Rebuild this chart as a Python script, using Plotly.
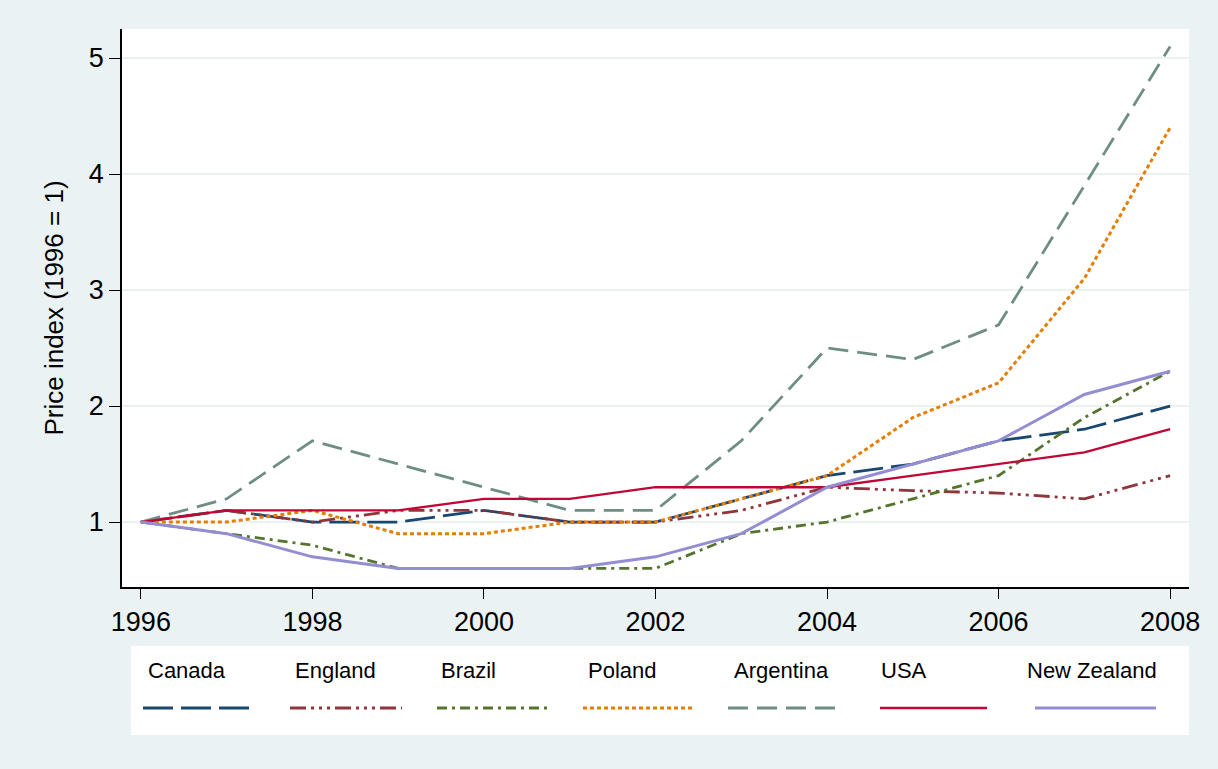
import plotly.graph_objects as go

years = list(range(1996, 2009))
canada = [1.0, 1.1, 1.0, 1.0, 1.1, 1.0, 1.0, 1.2, 1.4, 1.5, 1.7, 1.8, 2.0]
england = [1.0, 1.1, 1.0, 1.1, 1.1, 1.0, 1.0, 1.1, 1.3, 1.27, 1.25, 1.2, 1.4]
brazil = [1.0, 0.9, 0.8, 0.6, 0.6, 0.6, 0.6, 0.9, 1.0, 1.2, 1.4, 1.9, 2.3]
poland = [1.0, 1.0, 1.1, 0.9, 0.9, 1.0, 1.0, 1.2, 1.4, 1.9, 2.2, 3.1, 4.4]
argentina = [1.0, 1.2, 1.7, 1.5, 1.3, 1.1, 1.1, 1.7, 2.5, 2.4, 2.7, 3.9, 5.1]
usa = [1.0, 1.1, 1.1, 1.1, 1.2, 1.2, 1.3, 1.3, 1.3, 1.4, 1.5, 1.6, 1.8]
new_zealand = [1.0, 0.9, 0.7, 0.6, 0.6, 0.6, 0.7, 0.9, 1.3, 1.5, 1.7, 2.1, 2.3]

x_ticks = [1996, 1998, 2000, 2002, 2004, 2006, 2008]
y_ticks = [1, 2, 3, 4, 5]

series = [
    ("Canada", canada, "#1A476F", "30px,8px", 2.8),
    ("England", england, "#90353B", "16px,5px,3px,5px,3px,5px,3px,5px", 2.8),
    ("Brazil", brazil, "#55752F", "10px,5px,3px,5px", 2.8),
    ("Poland", poland, "#E37E00", "4px,3px", 3.0),
    ("Argentina", argentina, "#6E8E84", "20px,9px", 2.8),
    ("USA", usa, "#C10534", "solid", 2.3),
    ("New Zealand", new_zealand, "#938DD2", "solid", 3.0),
]

W, H = 1218, 769
L, R, T, B = 122, 29, 29, 182
ph = H - T - B
pw = W - L - R

def py(pix):  # pixel y -> paper y
    return (H - B - pix) / ph

def px(pix):  # pixel x -> paper x
    return (pix - L) / pw

fig = go.Figure()
for name, vals, color, dash, w in series:
    fig.add_trace(go.Scatter(x=years, y=vals, mode="lines", name=name,
                             line=dict(color=color, dash=dash, width=w),
                             showlegend=False))

shapes = []
annotations = []
# legend box
shapes.append(dict(type="rect", xref="paper", yref="paper",
                   x0=px(131), x1=px(1189), y0=py(735), y1=py(646),
                   fillcolor="white", line=dict(width=0), layer="below"))
label_x = [146, 293, 439, 586, 732, 879, 1025]
sample_x = [(143, 256), (290, 402), (437, 548), (583, 695), (728, 843), (880, 987), (1035, 1156)]
for (name, vals, color, dash, w), lx, (sx0, sx1) in zip(series, label_x, sample_x):
    annotations.append(dict(xref="paper", yref="paper", x=px(lx), y=py(670),
                            text=name, showarrow=False, xanchor="left", yanchor="middle",
                            font=dict(size=22, color="black")))
    shapes.append(dict(type="line", xref="paper", yref="paper",
                       x0=px(sx0), x1=px(sx1), y0=py(708), y1=py(708),
                       line=dict(color=color, dash=dash, width=w)))

fig.update_layout(
    width=W, height=H,
    margin=dict(l=L, r=R, t=T, b=B),
    paper_bgcolor="#EAF2F3",
    plot_bgcolor="white",
    font=dict(family="Liberation Sans, Arial, sans-serif", color="black"),
    shapes=shapes,
    annotations=annotations,
    showlegend=False,
)
fig.update_xaxes(range=[1995.78, 2008.22], tickvals=x_ticks, ticktext=[str(t) for t in x_ticks],
                 showgrid=False, zeroline=False, showline=True, linecolor="black", linewidth=1.5,
                 ticks="outside", ticklen=10, tickcolor="black", tickwidth=1.2, tickfont=dict(size=27))
fig.update_yaxes(range=[0.44, 5.25], tickvals=y_ticks, ticktext=[str(t) for t in y_ticks],
                 showgrid=True, gridcolor="#EAF2F3", gridwidth=2, zeroline=False,
                 showline=True, linecolor="black", linewidth=1.5,
                 ticks="outside", ticklen=11, tickcolor="black", tickwidth=1.2, tickfont=dict(size=27),
                 title=dict(text="Price index (1996 = 1)", font=dict(size=26), standoff=18))

fig.write_html("out.html", config={"displayModeBar": False},
               post_script="document.body.style.margin='0';document.body.style.background='#EAF2F3';")
